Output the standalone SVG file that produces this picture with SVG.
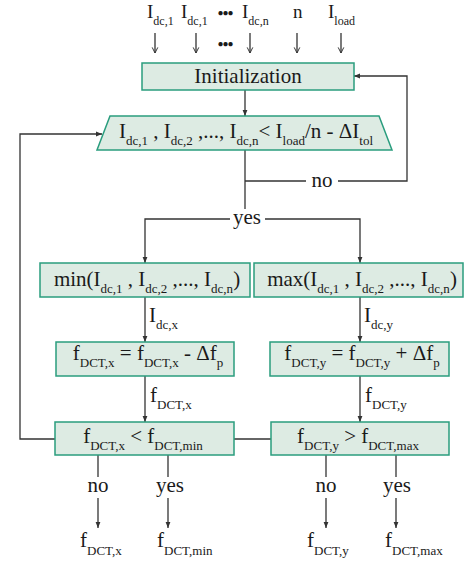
<svg xmlns="http://www.w3.org/2000/svg" width="465" height="567" viewBox="0 0 465 567">
  <defs>
    <style>
      .box { fill: #ddebe3; stroke: #2a9d7e; stroke-width: 1.5; }
      .ln { fill: none; stroke: #333; stroke-width: 1.3; }
      .t { font-family: "Liberation Serif", "Times New Roman", serif; font-size: 21px; fill: #1a1a1a; }
      .tc { text-anchor: middle; }
      .s { font-size: 13px; }
      .top { font-size: 19px; }
      .ts { font-size: 12px; }
      .dots { font-size: 10px; letter-spacing: -1px; }
    </style>
    <marker id="ah" viewBox="0 0 10 10" refX="10" refY="5" markerWidth="6" markerHeight="7" markerUnits="userSpaceOnUse" orient="auto">
      <path d="M0,1 L10,5 L0,9 Z" fill="#333"/>
    </marker>
    <marker id="vh" viewBox="0 0 10 10" refX="9" refY="5" markerWidth="7" markerHeight="8" markerUnits="userSpaceOnUse" orient="auto">
      <path d="M1,1 L9,5 L1,9" fill="none" stroke="#333" stroke-width="1.4"/>
    </marker>
  </defs>

  <!-- input quantities -->
  <g id="inputs" class="t top">
    <text x="147" y="18">I<tspan class="ts" dy="7">dc,1</tspan></text>
    <text x="181" y="18">I<tspan class="ts" dy="7">dc,1</tspan></text>
    <text x="225" y="16" class="tc dots">●●●</text>
    <text x="242" y="18">I<tspan class="ts" dy="7">dc,n</tspan></text>
    <text x="293" y="18">n</text>
    <text x="328" y="18">I<tspan class="ts" dy="7">load</tspan></text>
    <text x="225" y="47" class="tc dots">●●●</text>
  </g>

  <!-- connectors -->
  <g id="connectors">
    <line class="ln" x1="155" y1="33" x2="155" y2="53" marker-end="url(#vh)"/>
    <line class="ln" x1="196" y1="33" x2="196" y2="53" marker-end="url(#vh)"/>
    <line class="ln" x1="250" y1="33" x2="250" y2="53" marker-end="url(#vh)"/>
    <line class="ln" x1="297" y1="33" x2="297" y2="53" marker-end="url(#vh)"/>
    <line class="ln" x1="341" y1="33" x2="341" y2="53" marker-end="url(#vh)"/>

    <line class="ln" x1="245" y1="90" x2="245" y2="116" marker-end="url(#ah)"/>
    <!-- no: back to initialization -->
    <line class="ln" x1="245" y1="150" x2="245" y2="209"/>
    <polyline class="ln" points="245,181 306,181"/>
    <polyline class="ln" points="338,181 407,181 407,76 354,76" marker-end="url(#ah)"/>
    <!-- yes: split -->
    <polyline class="ln" points="230,219 145,219 145,263" marker-end="url(#ah)"/>
    <polyline class="ln" points="265,219 360,219 360,263" marker-end="url(#ah)"/>
    <line class="ln" x1="145" y1="297" x2="145" y2="342" marker-end="url(#ah)"/>
    <line class="ln" x1="360" y1="297" x2="360" y2="342" marker-end="url(#ah)"/>
    <line class="ln" x1="145" y1="376" x2="145" y2="422" marker-end="url(#ah)"/>
    <line class="ln" x1="360" y1="376" x2="360" y2="422" marker-end="url(#ah)"/>
    <!-- loop back to the check -->
    <polyline class="ln" points="55,439 20,439 20,134 102,134" marker-end="url(#ah)"/>
    <line class="ln" x1="234" y1="439" x2="271" y2="439"/>
    <!-- outputs -->
    <line class="ln" x1="98" y1="455" x2="98" y2="477"/>
    <line class="ln" x1="98" y1="498" x2="98" y2="528" marker-end="url(#ah)"/>
    <line class="ln" x1="168" y1="455" x2="168" y2="477"/>
    <line class="ln" x1="168" y1="498" x2="168" y2="528" marker-end="url(#ah)"/>
    <line class="ln" x1="326" y1="455" x2="326" y2="477"/>
    <line class="ln" x1="326" y1="498" x2="326" y2="528" marker-end="url(#ah)"/>
    <line class="ln" x1="396" y1="455" x2="396" y2="477"/>
    <line class="ln" x1="396" y1="498" x2="396" y2="528" marker-end="url(#ah)"/>
  </g>

  <!-- connector labels -->
  <g id="labels" class="t">
    <text x="322" y="187" class="tc">no</text>
    <text x="247" y="224" class="tc">yes</text>
    <text x="149" y="322">I<tspan class="s" dy="7">dc,x</tspan></text>
    <text x="364" y="322">I<tspan class="s" dy="7">dc,y</tspan></text>
    <text x="150" y="402">f<tspan class="s" dy="7">DCT,x</tspan></text>
    <text x="365" y="402">f<tspan class="s" dy="7">DCT,y</tspan></text>
    <text x="98" y="492" class="tc">no</text>
    <text x="170" y="492" class="tc">yes</text>
    <text x="326" y="492" class="tc">no</text>
    <text x="397" y="492" class="tc">yes</text>
  </g>

  <g id="init">
    <rect class="box" x="142" y="63" width="212" height="27"/>
    <text class="t tc" x="248" y="83">Initialization</text>
  </g>

  <g id="check">
    <polygon class="box" points="110,116 379,116 392,150 97,150"/>
    <text class="t tc" x="246" y="138">I<tspan class="s" dy="7">dc,1</tspan><tspan dy="-7"> , I</tspan><tspan class="s" dy="7">dc,2</tspan><tspan dy="-7"> ,..., I</tspan><tspan class="s" dy="7">dc,n</tspan><tspan dy="-7">&lt; I</tspan><tspan class="s" dy="7">load</tspan><tspan dy="-7">/n - ΔI</tspan><tspan class="s" dy="7">tol</tspan></text>
  </g>

  <g id="min">
    <rect class="box" x="40" y="263" width="210" height="34"/>
    <text class="t tc" x="147" y="286">min(I<tspan class="s" dy="7">dc,1</tspan><tspan dy="-7"> , I</tspan><tspan class="s" dy="7">dc,2</tspan><tspan dy="-7"> ,..., I</tspan><tspan class="s" dy="7">dc,n</tspan><tspan dy="-7">)</tspan></text>
  </g>

  <g id="max">
    <rect class="box" x="254" y="263" width="209" height="34"/>
    <text class="t tc" x="362" y="286">max(I<tspan class="s" dy="7">dc,1</tspan><tspan dy="-7"> , I</tspan><tspan class="s" dy="7">dc,2</tspan><tspan dy="-7"> ,..., I</tspan><tspan class="s" dy="7">dc,n</tspan><tspan dy="-7">)</tspan></text>
  </g>

  <g id="dec">
    <rect class="box" x="56" y="342" width="178" height="34"/>
    <text class="t tc" x="148" y="360">f<tspan class="s" dy="7">DCT,x</tspan><tspan dy="-7"> = f</tspan><tspan class="s" dy="7">DCT,x</tspan><tspan dy="-7"> - Δf</tspan><tspan class="s" dy="7">p</tspan></text>
  </g>

  <g id="inc">
    <rect class="box" x="270" y="342" width="179" height="34"/>
    <text class="t tc" x="362" y="360">f<tspan class="s" dy="7">DCT,y</tspan><tspan dy="-7"> = f</tspan><tspan class="s" dy="7">DCT,y</tspan><tspan dy="-7"> + Δf</tspan><tspan class="s" dy="7">p</tspan></text>
  </g>

  <g id="lowcheck">
    <rect class="box" x="55" y="422" width="179" height="33"/>
    <text class="t tc" x="143" y="443">f<tspan class="s" dy="7">DCT,x</tspan><tspan dy="-7"> &lt; f</tspan><tspan class="s" dy="7">DCT,min</tspan></text>
  </g>

  <g id="highcheck">
    <rect class="box" x="271" y="422" width="178" height="33"/>
    <text class="t tc" x="358" y="443">f<tspan class="s" dy="7">DCT,y</tspan><tspan dy="-7"> &gt; f</tspan><tspan class="s" dy="7">DCT,max</tspan></text>
  </g>

  <g id="outputs" class="t">
    <text x="80" y="547">f<tspan class="s" dy="8">DCT,x</tspan></text>
    <text x="157" y="547">f<tspan class="s" dy="8">DCT,min</tspan></text>
    <text x="307" y="547">f<tspan class="s" dy="8">DCT,y</tspan></text>
    <text x="385" y="547">f<tspan class="s" dy="8">DCT,max</tspan></text>
  </g>
</svg>
